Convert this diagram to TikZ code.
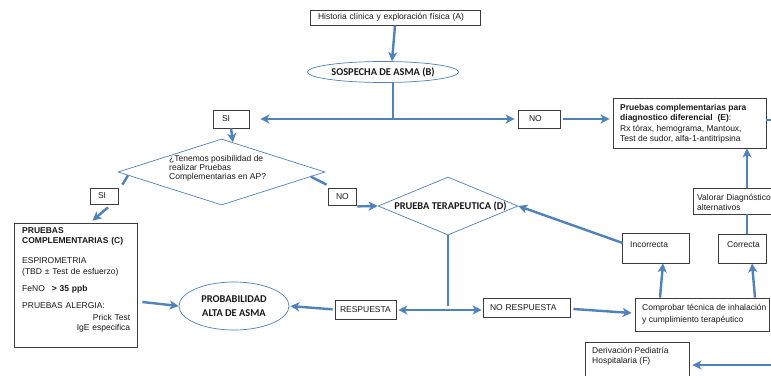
\documentclass[tikz,border=0pt]{standalone}
\usepackage{fontspec}
\setmainfont{Liberation Sans}
\newfontfamily\calibfont{Carlito}
\usetikzlibrary{shapes.geometric,arrows.meta,calc}
\definecolor{flow}{RGB}{79,129,189}
\definecolor{txt}{RGB}{25,25,25}
\definecolor{edge}{RGB}{60,60,60}
\tikzset{
  box/.style={draw=edge,line width=0.7pt,rectangle,inner sep=0pt,fill=white,
    font=\fontsize{8.5}{10.5}\selectfont,text=txt,align=left},
  tx/.style={font=\fontsize{8.5}{10.5}\selectfont,text=txt,inner sep=0pt,align=left,anchor=west},
  oval/.style={ellipse,draw=flow,line width=0.7pt,inner sep=0pt,fill=white,
    font=\calibfont\bfseries\fontsize{10.4}{14}\selectfont,text=txt,align=center},
  dia/.style={diamond,draw=flow,line width=0.7pt,inner sep=0pt,fill=white},
  arr/.style={draw=flow,line width=2.4pt,-{Stealth[length=9pt,width=9pt,inset=2.5pt]}},
  ln/.style={draw=flow,line width=2.4pt},
}
\begin{document}
\begin{tikzpicture}[x=1pt,y=-1pt]
\useasboundingbox (0,0) rectangle (771,375);
\clip (0,0) rectangle (771,375);
\fill[white] (0,0) rectangle (771,375);

% --- nodes ---
\node[box,minimum width=170,minimum height=15,text width=154] (A) at (395,17.5) {Historia clínica y exploración física (A)};
\node[oval,minimum width=151,minimum height=21] (B) at (383,72) {SOSPECHA DE ASMA (B)};
\node[box,minimum width=36,minimum height=18,text width=18] (SI1) at (231,119) {SI};
\node[box,minimum width=42,minimum height=18,text width=20] (NO1) at (539,119) {NO};
\node[box,minimum width=153,minimum height=50] (E) at (689.5,123) {};
\node[tx] (Et) at (620,124) {\textbf{Pruebas complementarias para}\\
  \textbf{diagnostico diferencial\ \ (E)}:\\
  Rx tórax, hemograma, Mantoux,\\
  Test de sudor, alfa-1-antitripsina};

\node[dia,minimum width=207,minimum height=66] (Q) at (221.5,172) {};
\node[tx,font=\fontsize{8.5}{8.8}\selectfont] (Qt) at (169,168.5) {¿Tenemos posibilidad de\\realizar Pruebas\\Complementarias en AP?};

\node[box,minimum width=28,minimum height=16,text width=12] (SI2) at (104,196) {SI};
\node[box,minimum width=28,minimum height=17,text width=12] (NO2) at (342,196.5) {NO};

\node[box,minimum width=123,minimum height=124] (C) at (75.5,285) {};
\node[tx,text width=108] (Ct) at (22,280) {\textbf{PRUEBAS}\\
  \textbf{COMPLEMENTARIAS (C)}\\[9.5pt]
  ESPIROMETRIA\\
  (TBD ± Test de esfuerzo)\\[7pt]
  FeNO\hspace{7pt}\textbf{> 35 ppb}\\[6.5pt]
  PRUEBAS ALERGIA:\\[1pt]
  \hspace*{\fill}Prick Test\\
  \hspace*{\fill}IgE especifica};

\node[dia,minimum width=140,minimum height=58] (D) at (448,206) {};
\node[inner sep=0pt,font=\calibfont\bfseries\fontsize{10.4}{12}\selectfont,text=txt] (Dt) at (450.5,206) {PRUEBA TERAPEUTICA (D)};

\node[box,minimum width=117,minimum height=26] (Val) at (751.5,201) {};
\node[tx,font=\fontsize{8.5}{10}\selectfont] (Valt) at (697,202) {Valorar Diagnóstico\\alternativos};

\node[box,minimum width=67,minimum height=30] (INC) at (655.5,248) {};
\node[tx] (INCt) at (630,245) {Incorrecta};
\node[box,minimum width=48,minimum height=29] (COR) at (742,248.5) {};
\node[tx] (CORt) at (727,244.5) {Correcta};

\node[box,minimum width=134,minimum height=33] (COMP) at (702,314.5) {};
\node[tx,font=\fontsize{8.5}{12.4}\selectfont] (COMPt) at (642,314.5) {Comprobar técnica de inhalación\\y cumplimiento terapéutico};

\node[box,minimum width=87,minimum height=19,text width=73] (NORESP) at (526.5,307.5) {NO RESPUESTA};
\node[box,minimum width=61,minimum height=19,text width=51] (RESP) at (365.5,309.5) {RESPUESTA};

\node[oval,minimum width=110,minimum height=48] (PROB) at (234,306) {PROBABILIDAD\\ALTA DE ASMA};

\node[box,minimum width=104,minimum height=48] (F) at (637,366) {};
\node[tx,font=\fontsize{8.5}{10.5}\selectfont] (Ft) at (592,356) {Derivación Pediatría\\Hospitalaria (F)};

% --- coordinates for junctions / free ends ---
\coordinate (Bj) at (393,119);
\coordinate (Dj) at (448,310);
\coordinate (Eo) at (780,120);
\coordinate (Fo) at (780,365);

% --- connectors ---
\draw[arr] (A.south) -- ($(B.north)+(9,0)$);
\draw[ln] ($(B.south)+(10,0)$) -- (Bj);
\draw[arr,shorten >=11pt] (Bj) -- (Bj -| SI1.east);
\draw[arr,shorten >=3pt] ($(Bj)+(-1.2,0)$) -- (Bj -| NO1.west);
\draw[arr,shorten <=3pt,shorten >=3pt] (NO1.east) -- (NO1.east -| E.west);
\draw[ln] ($(E.east)+(0,-3)$) -- (Eo);

\draw[arr] (SI1.south) -- ($(Q.north)!0.11!(Q.east)$);
\draw[ln] ($(Q.west)!0.1!(Q.south)$) -- ($(SI2.north east)+(4,-3)$);
\draw[arr] ($(SI2.south)+(4,3)$) -- ($(C.north)+(17,-2)$);
\draw[ln] ($(Q.east)!0.14!(Q.south)$) -- ($(NO2.north west)+(-1,-3)$);
\draw[arr] ($(NO2.south east)+(1,1)$) -- (D.west);

\draw[ln] (D.south) -- ($(Dj)+(0,-4)$);
\draw[arr,shorten >=2pt] ($(Dj)+(1.2,0)$) -- (Dj -| RESP.east);
\draw[arr,shorten >=1pt] ($(Dj)+(-1.2,0)$) -- (Dj -| NORESP.west);
\draw[arr,shorten <=2pt,shorten >=1pt] (RESP.west) -- (PROB.east);
\draw[arr] ($(C.east)+(5,17)$) -- (PROB.west);

\draw[arr] ($(NORESP.east)+(3,1.5)$) -- ($(COMP.west)+(-3,-1.5)$);
\draw[arr] ($(COMP.north)+(-42,0)$) -- ($(INC.south)+(7.5,0)$);
\draw[arr] ($(COMP.north)+(53,0)$) -- ($(COR.south)+(10,0)$);
\draw[arr] ($(INC.west)+(1,-5)$) -- (D.east);
\draw[ln] ($(COR.north)+(5,0)$) -- ($(Val.south)+(-4.5,0)$);
\draw[arr] ($(Val.north)+(-4.5,0)$) -- ($(E.south)+(57.5,0)$);
\draw[arr,shorten >=3pt] (Fo) -- (Fo -| F.east);
\end{tikzpicture}
\end{document}
